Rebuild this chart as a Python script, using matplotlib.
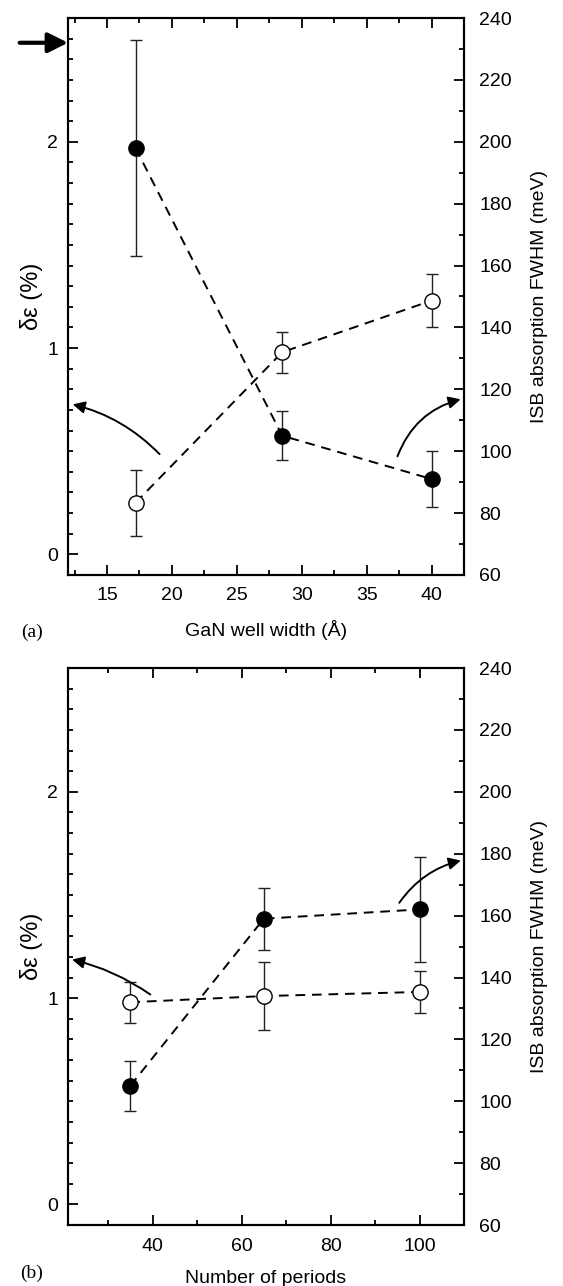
import numpy as np
import matplotlib.pyplot as plt
from matplotlib.ticker import MultipleLocator
from matplotlib.patches import FancyArrowPatch

plt.rcParams['font.family'] = ['Liberation Sans', 'DejaVu Sans']
plt.rcParams['font.size'] = 14

# panel (a): vs GaN well width
well_width = [17.2, 28.5, 40.0]
de_a = [0.25, 0.98, 1.23]          # open circles, left axis (%)
de_a_err = [0.16, 0.10, 0.13]
fwhm_a = [198, 105, 91]            # filled circles, right axis (meV)
fwhm_a_err = [35, 8, 9]

# panel (b): vs number of periods
periods = [35, 65, 100]
de_b = [0.98, 1.01, 1.03]
de_b_err = [0.10, 0.165, 0.10]
fwhm_b = [105, 159, 162]
fwhm_b_err = [8, 10, 17]

DASH = (0, (5, 3.5))


def panel(ax, x, de, de_err, fw, fw_err, xlim, xmaj, xmin, xlabel):
    ax2 = ax.twinx()

    # open circles -> delta epsilon
    ax.plot(x, de, ls=DASH, color='k', lw=1.4, zorder=1)
    ax.errorbar(x, de, yerr=de_err, fmt='none', ecolor='#222222',
                elinewidth=1, capsize=4, capthick=1, zorder=2)
    ax.plot(x, de, 'o', ms=11, mfc='white', mec='k', mew=1, ls='none', zorder=3)

    # filled circles -> FWHM
    ax2.plot(x, fw, ls=DASH, color='k', lw=1.4, zorder=1)
    ax2.errorbar(x, fw, yerr=fw_err, fmt='none', ecolor='#222222',
                 elinewidth=1, capsize=4, capthick=1, zorder=2)
    ax2.plot(x, fw, 'o', ms=11, mfc='k', mec='k', mew=1, ls='none', zorder=3)

    ax.set_xlim(*xlim)
    ax.set_ylim(-0.1, 2.6)
    ax2.set_ylim(60, 240)

    ax.xaxis.set_major_locator(MultipleLocator(xmaj))
    ax.xaxis.set_minor_locator(MultipleLocator(xmin))
    ax.yaxis.set_major_locator(MultipleLocator(1))
    ax.yaxis.set_minor_locator(MultipleLocator(0.1))
    ax2.yaxis.set_major_locator(MultipleLocator(20))
    ax2.yaxis.set_minor_locator(MultipleLocator(10))

    ax.tick_params(axis='x', which='both', direction='in', top=True, bottom=True, pad=9)
    ax.tick_params(axis='y', which='both', direction='in', left=True, right=False, pad=7)
    ax.tick_params(which='major', length=7, width=1.3)
    ax.tick_params(which='minor', length=3.3, width=1.3)
    ax2.tick_params(axis='y', which='both', direction='in', pad=11)
    ax2.tick_params(which='major', length=7, width=1.3)
    ax2.tick_params(which='minor', length=3.3, width=1.3)

    for a in (ax, ax2):
        for s in a.spines.values():
            s.set_linewidth(1.5)

    ax.set_xlabel(xlabel, labelpad=11)
    ax.set_ylabel('δε (%)', labelpad=3, fontsize=17)
    ax2.set_ylabel('ISB absorption FWHM (meV)', labelpad=14)
    return ax2


fig = plt.figure(figsize=(5.63, 12.86), dpi=100)
ax_a = fig.add_axes([0.1208, 0.5529, 0.7034, 0.4331])
ax_b = fig.add_axes([0.1208, 0.0474, 0.7034, 0.4331])

ax2_a = panel(ax_a, well_width, de_a, de_a_err, fwhm_a, fwhm_a_err,
              (12, 42.5), 5, 2.5, 'GaN well width (Å)')
ax2_b = panel(ax_b, periods, de_b, de_b_err, fwhm_b, fwhm_b_err,
              (21, 110), 20, 10, 'Number of periods')

# curved arrows pointing to the relevant axis
def curved(ax, start, end, rad):
    ax.add_patch(FancyArrowPatch(start, end, connectionstyle='arc3,rad=%g' % rad,
                                 arrowstyle='-|>', mutation_scale=18, lw=1.4,
                                 color='k', clip_on=False, zorder=5))

curved(ax_a, (19.2, 0.476), (12.15, 0.73), 0.15)
curved(ax2_a, (37.3, 97.5), (42.45, 117), -0.27)
curved(ax_b, (40, 1.01), (21.3, 1.19), 0.1)
curved(ax2_b, (95.1, 163.4), (109.9, 178), -0.2)

# thick arrow marking the top-left value
ax_a.annotate('', xy=(0, 2.48), xycoords=('axes fraction', 'data'),
              xytext=(-0.122, 2.48), textcoords=('axes fraction', 'data'),
              arrowprops=dict(arrowstyle='-|>', lw=3, mutation_scale=30, color='k',
                              shrinkA=0, shrinkB=0),
              annotation_clip=False)

fig.text(32 / 563, 1 - 632 / 1286, '(a)', family='Liberation Serif', fontsize=14,
         ha='center', va='center')
fig.text(32 / 563, 1 - 1273 / 1286, '(b)', family='Liberation Serif', fontsize=14,
         ha='center', va='center')

fig.savefig('out.png', dpi=100)
